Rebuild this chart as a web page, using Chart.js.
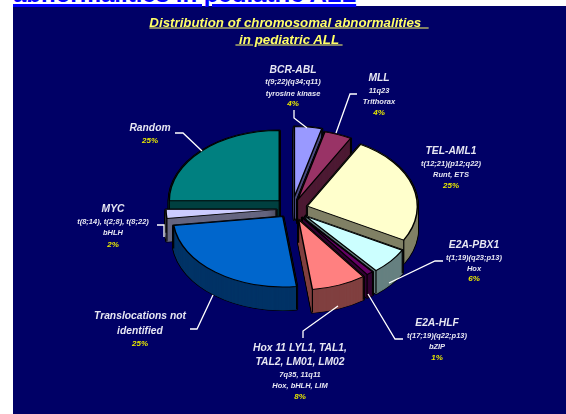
<!DOCTYPE html>
<html lang="en">
<head>
    <meta charset="UTF-8">
    <title>Distribution of chromosomal abnormalities in pediatric ALL</title>
    <script src="https://cdn.jsdelivr.net/npm/chart.js"></script>
    <style>
        html, body { margin: 0; padding: 0; background: #fff; overflow: hidden; }
        #page { position: relative; width: 566px; height: 414px; overflow: hidden; font-family: "Liberation Sans", Arial, sans-serif; }
        #panel { position: absolute; left: 13px; top: 6px; right: 0; bottom: 0; background: #000066; }
        #heading { position: absolute; left: 13px; top: -20px; font-size: 24px; font-weight: bold; color: #0000ff; text-decoration: underline; text-decoration-thickness: 2.5px; white-space: nowrap; line-height: 28px; }
        canvas { position: absolute; left: 0; top: 0; }
        .t { position: absolute; transform: translate(-50%, -50%); white-space: nowrap; font-style: italic; font-weight: bold; }
        .title { font-size: 13.3px; color: #ffff66; text-decoration: underline; white-space: pre; }
        .name { font-size: 10.3px; color: #e6e6f2; }
        .sub { font-size: 7.5px; color: #e6e6f2; }
        .pct { font-size: 8px; color: #e6e600; }
    </style>
</head>
<body>
<div id="page">
    <div id="panel"></div>
    <div id="heading">abnormalities in pediatric ALL</div>
    <canvas id="pie" width="566" height="414"></canvas>
</div>
<script>
    // Valores, em sentido horario a partir do topo
    const categories = ['BCR-ABL', 'MLL', 'TEL-AML1', 'E2A-PBX1', 'E2A-HLF', 'Hox 11', 'Translocations not identified', 'MYC', 'Random'];
    const values = [4, 4, 25, 6, 1, 8, 25, 2, 25];
    const explode = [19, 15, 16, 18, 17, 18, 15, 16, 18];
    const topColors = ['#9999ff', '#993366', '#ffffcc', '#ccffff', '#660066', '#ff8080', '#0066cc', '#ccccff', '#008080'];
    const sideColors = ['#4d4d80', '#4d1a33', '#808066', '#668080', '#330033', '#804040', '#003366', '#666680', '#004040'];

    const squash = 0.64;
    const depth = 23;

    // Desenha um arco da biblioteca com outras cores
    function paintArc(ctx, arc, fill, stroke, width) {
        const saved = arc.options;
        arc.options = {
            backgroundColor: fill, borderColor: stroke, borderWidth: width,
            borderAlign: 'center', borderJoinStyle: 'round', borderRadius: 0,
            borderDash: [], borderDashOffset: 0, circular: true, spacing: 0, offset: 0
        };
        arc.draw(ctx);
        arc.options = saved;
    }

    // Aplica a inclinacao e afasta a fatia do centro
    function tilted(ctx, arc, i, shift, draw) {
        const mid = (arc.startAngle + arc.endAngle) / 2;
        ctx.save();
        ctx.translate(arc.x, arc.y + shift);
        ctx.scale(1, squash);
        ctx.translate(Math.cos(mid) * explode[i] - arc.x, Math.sin(mid) * explode[i] - arc.y);
        draw();
        ctx.restore();
    }

    const pie3d = {
        id: 'pie3d',
        beforeDatasetsDraw(chart) {
            const ctx = chart.ctx;
            const arcs = chart.getDatasetMeta(0).data.map((arc, i) => ({ arc, i }));
            // Fatias de tras primeiro
            arcs.sort((a, b) => Math.sin((a.arc.startAngle + a.arc.endAngle) / 2) - Math.sin((b.arc.startAngle + b.arc.endAngle) / 2));
            arcs.forEach(({ arc, i }) => {
                for (let d = depth; d >= 0; d--) {
                    tilted(ctx, arc, i, d, () => paintArc(ctx, arc, '#000', '#000', 3.2));
                }
                for (let d = depth; d >= 0; d--) {
                    tilted(ctx, arc, i, d, () => paintArc(ctx, arc, sideColors[i], sideColors[i], 1.2));
                }
                // Arestas verticais
                const mid = (arc.startAngle + arc.endAngle) / 2;
                const ax = arc.x + Math.cos(mid) * explode[i];
                const ay = arc.y + Math.sin(mid) * explode[i];
                const r = arc.outerRadius;
                const corners = [[ax, ay], [ax + Math.cos(arc.startAngle) * r, ay + Math.sin(arc.startAngle) * r], [ax + Math.cos(arc.endAngle) * r, ay + Math.sin(arc.endAngle) * r]];
                ctx.save();
                ctx.strokeStyle = '#000';
                ctx.lineWidth = 1.2;
                corners.forEach(([px, py]) => {
                    const sy = arc.y + (py - arc.y) * squash;
                    ctx.beginPath();
                    ctx.moveTo(px, sy);
                    ctx.lineTo(px, sy + depth);
                    ctx.stroke();
                });
                ctx.restore();
                tilted(ctx, arc, i, 0, () => paintArc(ctx, arc, topColors[i], '#000', 1.5));
            });
            return false;
        },
        afterDraw(chart) {
            const ctx = chart.ctx;
            ctx.save();
            ctx.strokeStyle = '#fff';
            ctx.lineWidth = 1.3;
            leaders.forEach(points => {
                ctx.beginPath();
                points.forEach(([x, y], n) => n ? ctx.lineTo(x, y) : ctx.moveTo(x, y));
                ctx.stroke();
            });
            ctx.restore();
        }
    };

    const leaders = [
        [[294, 110], [294, 118], [307, 128]],
        [[357, 94], [350, 94], [336, 133]],
        [[175, 133], [183, 133], [202, 151]],
        [[190, 329], [197, 329], [213, 295]],
        [[303, 338], [303, 331], [338, 306]],
        [[403, 339], [395, 339], [368, 294]],
        [[443, 261], [435, 261], [389, 283]],
        [[157, 225], [164, 225], [164, 237]]
    ];

    // Textos: [centro x, centro y, texto, classe]
    const notes = [
        [289, 22, 'Distribution of chromosomal abnormalities  ', 'title'],
        [289, 39, ' in pediatric ALL ', 'title'],
        [293, 69, 'BCR-ABL', 'name'], [293, 81, 't(9;22)(q34;q11)', 'sub'], [293, 93, 'tyrosine kinase', 'sub'], [293, 103, '4%', 'pct'],
        [379, 77, 'MLL', 'name'], [379, 90, '11q23', 'sub'], [379, 101, 'Trithorax', 'sub'], [379, 112, '4%', 'pct'],
        [150, 127, 'Random', 'name'], [150, 140, '25%', 'pct'],
        [451, 150, 'TEL-AML1', 'name'], [451, 163, 't(12;21)(p12;q22)', 'sub'], [451, 174, 'Runt, ETS', 'sub'], [451, 185, '25%', 'pct'],
        [474, 244, 'E2A-PBX1', 'name'], [474, 257, 't(1;19)(q23;p13)', 'sub'], [474, 268, 'Hox', 'sub'], [474, 278, '6%', 'pct'],
        [437, 322, 'E2A-HLF', 'name'], [437, 335, 't(17;19)(q22;p13)', 'sub'], [437, 346, 'bZIP', 'sub'], [437, 357, '1%', 'pct'],
        [300, 347, 'Hox 11 LYL1, TAL1,', 'name'], [300, 361, 'TAL2, LM01, LM02', 'name'], [300, 374, '7q35, 11q11', 'sub'], [300, 385, 'Hox, bHLH, LIM', 'sub'], [300, 396, '8%', 'pct'],
        [140, 315, 'Translocations not', 'name'], [140, 330, 'identified', 'name'], [140, 343, '25%', 'pct'],
        [113, 208, 'MYC', 'name'], [113, 221, 't(8;14), t(2;8), t(8;22)', 'sub'], [113, 232, 'bHLH', 'sub'], [113, 244, '2%', 'pct']
    ];

    const page = document.getElementById('page');
    notes.forEach(([x, y, text, cls]) => {
        const el = document.createElement('div');
        el.className = 't ' + cls;
        el.style.left = x + 'px';
        el.style.top = y + 'px';
        el.textContent = text;
        page.appendChild(el);
    });

    new Chart(document.getElementById('pie').getContext('2d'), {
        type: 'pie',
        data: {
            labels: categories,
            datasets: [{ data: values, backgroundColor: topColors, borderColor: '#000' }]
        },
        options: {
            responsive: false,
            animation: false,
            radius: 110,
            layout: { padding: { left: 18, top: 4 } },
            plugins: { legend: { display: false }, tooltip: { enabled: false } },
            events: []
        },
        plugins: [pie3d]
    });
</script>
</body>
</html>
